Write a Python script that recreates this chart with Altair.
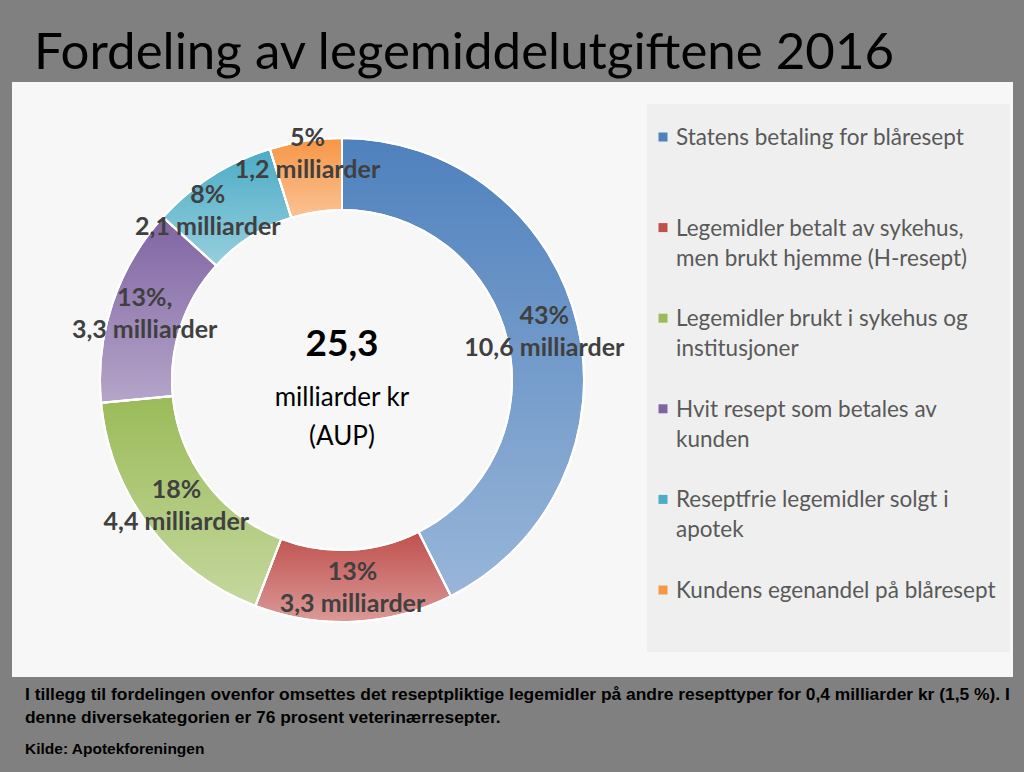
import altair as alt
import pandas as pd

# ---- data ----
categories = [
    "Statens betaling for blåresept",
    "Legemidler betalt av sykehus,\nmen brukt hjemme (H-resept)",
    "Legemidler brukt i sykehus og\ninstitusjoner",
    "Hvit resept som betales av\nkunden",
    "Reseptfrie legemidler solgt i\napotek",
    "Kundens egenandel på blåresept",
]
values_bn = [10.6, 3.3, 4.4, 3.3, 2.1, 1.2]
percent_labels = ["43%", "13%", "18%", "13%,", "8%", "5%"]
amount_labels = ["10,6 milliarder", "3,3 milliarder", "4,4 milliarder",
                 "3,3 milliarder", "2,1 milliarder", "1,2 milliarder"]
colors = ["#4F81BD", "#C0504D", "#9BBB59", "#8064A2", "#4BACC6", "#F79646"]

title_text = "Fordeling av legemiddelutgiftene 2016"
center_lines = ["25,3", "milliarder kr", "(AUP)"]
footer_lines = [
    "I tillegg til fordelingen ovenfor omsettes det reseptpliktige legemidler på andre resepttyper for 0,4 milliarder kr (1,5 %). I",
    "denne diversekategorien er 76 prosent veterinærresepter.",
]
source_text = "Kilde: Apotekforeningen"

df = pd.DataFrame({
    "cat": categories,
    "value": values_bn,
    "idx": list(range(len(categories))),
    "label": [p + "\n" + a for p, a in zip(percent_labels, amount_labels)],
})

W, H = 1024, 772
CX, CY = 342, 380
FONT = "Lato"
NARROW = "Liberation Sans Narrow, Liberation Sans"

color_scale = alt.Scale(domain=categories, range=colors)

# ---- background panels ----
panel = alt.Chart(pd.DataFrame({"a": [0]})).mark_rect(color="#f7f7f7").encode(
    x=alt.value(12), x2=alt.value(1013), y=alt.value(82), y2=alt.value(677)
)
legend_box = alt.Chart(pd.DataFrame({"a": [0]})).mark_rect(color="#efefef").encode(
    x=alt.value(647), x2=alt.value(1010), y=alt.value(104), y2=alt.value(652)
)

# ---- donut ----
theta = alt.Theta("value:Q", stack=True)
order = alt.Order("idx:Q", sort="ascending")

arcs = alt.Chart(df).mark_arc(outerRadius=242, innerRadius=170, stroke="white", strokeWidth=2).encode(
    theta=theta, order=order,
    color=alt.Color("cat:N", scale=color_scale, legend=None),
    x=alt.value(CX), y=alt.value(CY),
)

shade = alt.Chart(df).mark_arc(
    outerRadius=242, innerRadius=170, stroke="white", strokeWidth=2,
    fill=alt.Gradient(
        gradient="linear", x1=0, y1=0, x2=0, y2=1,
        stops=[alt.GradientStop(color="rgba(255,255,255,0)", offset=0),
               alt.GradientStop(color="rgba(255,255,255,0.42)", offset=1)],
    ),
).encode(theta=theta, order=order, x=alt.value(CX), y=alt.value(CY))


def arc_label_layer(show_expr, radius, dx=0, dy=-16):
    return alt.Chart(df).transform_calculate(
        shown=f"({show_expr}) ? datum.label : ''"
    ).mark_text(
        font=FONT, fontSize=25, fontWeight="bold", color="#404040",
        lineBreak="\n", lineHeight=32, radius=radius, align="center",
        baseline="middle", dx=dx, dy=dy,
    ).encode(theta=theta, order=order, text="shown:N", x=alt.value(CX), y=alt.value(CY))


labels_main = arc_label_layer("datum.idx < 4", 208)
labels_cyan = arc_label_layer("datum.idx == 4", 216, dx=-18, dy=-3)
labels_orange = arc_label_layer("datum.idx == 5", 229)

# ---- center text ----
center_df = pd.DataFrame({"t": center_lines, "i": [0, 1, 2]})
center1 = alt.Chart(center_df.iloc[[0]]).mark_text(
    font=FONT, fontSize=37, fontWeight="bold", color="#000000", align="center", baseline="middle"
).encode(text="t:N", x=alt.value(CX), y=alt.value(345))
center2 = alt.Chart(center_df.iloc[[1]]).mark_text(
    font=FONT, fontSize=26, color="#000000", align="center", baseline="middle"
).encode(text="t:N", x=alt.value(CX), y=alt.value(398))
center3 = alt.Chart(center_df.iloc[[2]]).mark_text(
    font=FONT, fontSize=26, color="#000000", align="center", baseline="middle"
).encode(text="t:N", x=alt.value(CX), y=alt.value(437))

# ---- manual legend ----
leg_y = alt.Y("cat:N", scale=alt.Scale(type="point", domain=categories, range=[137, 590], padding=0), axis=None)
leg_sym = alt.Chart(df).mark_square(size=81, opacity=1).encode(
    y=leg_y, x=alt.value(663),
    color=alt.Color("cat:N", scale=color_scale, legend=None),
)
leg_txt = alt.Chart(df).mark_text(
    font=FONT, fontSize=22.5, color="#595959", align="left", baseline="alphabetic",
    lineBreak="\n", lineHeight=30, dy=8,
).encode(y=leg_y, x=alt.value(676), text="cat:N")

# ---- title & footer ----
title = alt.Chart(pd.DataFrame({"t": [title_text]})).mark_text(
    font=FONT, fontSize=51, color="#000000", align="left", baseline="alphabetic"
).encode(text="t:N", x=alt.value(34), y=alt.value(69))

footer = alt.Chart(pd.DataFrame({"t": ["\n".join(footer_lines)]})).mark_text(
    font=NARROW, fontSize=17.4, fontWeight="bold", color="#000000",
    align="left", baseline="alphabetic", lineBreak="\n", lineHeight=23,
).encode(text="t:N", x=alt.value(25), y=alt.value(700))

source = alt.Chart(pd.DataFrame({"t": [source_text]})).mark_text(
    font=NARROW, fontSize=15.5, fontWeight="bold", color="#000000",
    align="left", baseline="alphabetic",
).encode(text="t:N", x=alt.value(25), y=alt.value(754))

chart = alt.layer(
    panel, legend_box, arcs, shade, labels_main, labels_cyan, labels_orange,
    center1, center2, center3, leg_sym, leg_txt, title, footer, source,
).properties(
    width=W, height=H, padding=0, background="#808080",
    autosize=alt.AutoSizeParams(type="none"),
).configure_view(stroke=None)

chart.save("out.html", embed_options={"renderer": "svg", "actions": False})
